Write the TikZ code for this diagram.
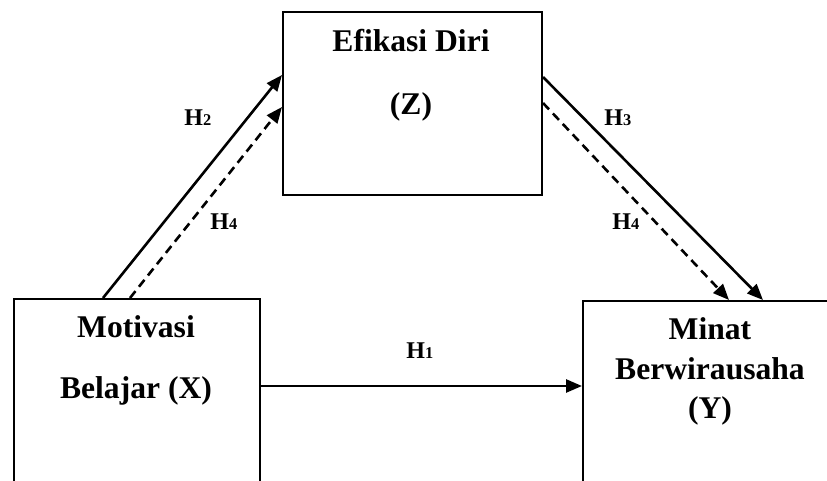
\documentclass[tikz,border=0pt]{standalone}
\usepackage{fontspec}
\setmainfont{Liberation Serif}
\usetikzlibrary{arrows.meta,calc}
\newcommand{\hlab}[1]{H{\fontsize{8.2}{9}\selectfont #1}}
\begin{document}
\begin{tikzpicture}[x=0.5pt,y=-0.5pt,
  box/.style={draw,line width=1pt,rectangle,inner sep=0pt,anchor=north west},
  big/.style={font=\fontsize{15.8}{19}\selectfont\bfseries,inner sep=0pt},
  hl/.style={font=\fontsize{12}{13}\selectfont\bfseries,inner sep=0pt,anchor=base west},
  conn/.style={line width=1.3pt,-{Triangle[length=8pt,width=6.5pt]}},
  dconn/.style={conn,dash pattern=on 4.4pt off 2.8pt}]
\path[use as bounding box,clip] (0,0) rectangle (827,481);
\node[box,minimum width=129.5pt,minimum height=91.5pt] (Z) at (282,11) {};
\node[box,minimum width=123pt,minimum height=101pt] (X) at (13,298) {};
\node[box,minimum width=130pt,minimum height=100pt] (Y) at (582,300) {};
\node[big,anchor=base] (zt1) at (411,52) {Efikasi Diri};
\node[big,anchor=base] (zt2) at (411,115) {(Z)};
\node[big,anchor=base] (xt1) at (136,338) {Motivasi};
\node[big,anchor=base] (xt2) at (136,399) {Belajar (X)};
\node[big,anchor=base] (yt1) at (710,340) {Minat};
\node[big,anchor=base] (yt2) at (710,380) {Berwirausaha};
\node[big,anchor=base] (yt3) at (710,419) {(Y)};
\draw[conn] ($(X.north west)+(90,0)$) -- ($(Z.north west)+(0,64)$);
\draw[dconn] ($(X.north west)+(117,0)$) -- ($(Z.north west)+(0,96)$);
\draw[conn] ($(Z.north east)+(0,66)$) -- ($(Y.north west)+(181,0)$);
\draw[dconn] ($(Z.north east)+(0,92)$) -- ($(Y.north west)+(147,0)$);
\draw[conn] (X.east |- 0,386) -- (Y.west |- 0,386);
\node[hl] (h2) at (184,126) {\hlab{2}};
\node[hl] (h4a) at (210,230) {\hlab{4}};
\node[hl] (h3) at (604,126) {\hlab{3}};
\node[hl] (h4b) at (612,230) {\hlab{4}};
\node[hl] (h1) at (406,359) {\hlab{1}};
\end{tikzpicture}
\end{document}
